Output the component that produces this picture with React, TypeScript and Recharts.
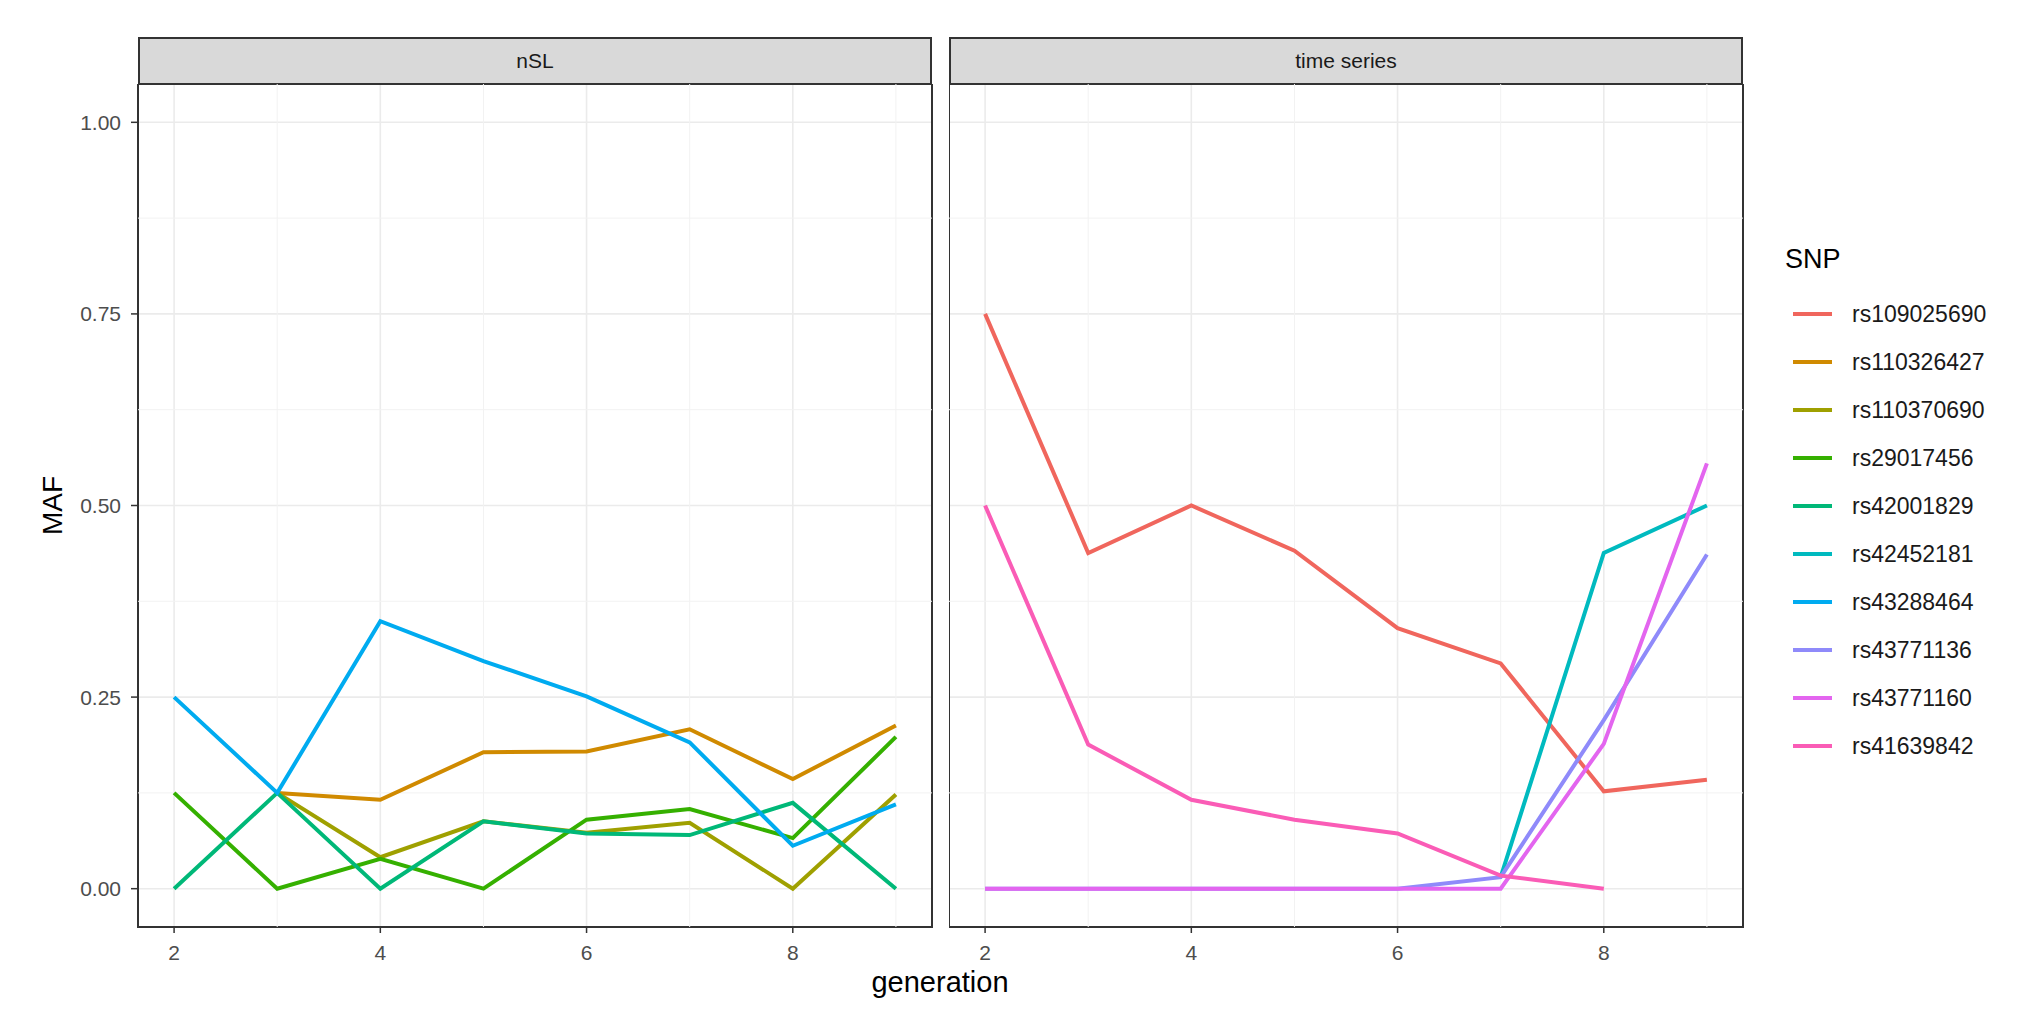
import React from "react";
import {
    LineChart,
    Line,
    XAxis,
    YAxis,
    CartesianGrid,
    ReferenceLine,
    ReferenceArea,
} from "recharts";

// generations on the x axis
const generations: number[] = [2, 3, 4, 5, 6, 7, 8, 9];

// legend order + ggplot hue colours
const snpNames: string[] = [
    "rs109025690",
    "rs110326427",
    "rs110370690",
    "rs29017456",
    "rs42001829",
    "rs42452181",
    "rs43288464",
    "rs43771136",
    "rs43771160",
    "rs41639842",
];
const snpColors: string[] = [
    "#F0665D",
    "#D08A00",
    "#9FA000",
    "#35B000",
    "#00B878",
    "#00BABF",
    "#00ABF0",
    "#8F8AFA",
    "#E365EF",
    "#FA5CB6",
];

// nSL panel
const nslRs110326427 = [null, 0.125, 0.116, 0.178, 0.179, 0.208, 0.143, 0.213];
const nslRs110370690 = [null, 0.125, 0.041, 0.088, 0.073, 0.086, 0, 0.123];
const nslRs29017456 = [0.125, 0, 0.039, 0, 0.09, 0.104, 0.066, 0.198];
const nslRs42001829 = [0, 0.125, 0, 0.088, 0.072, 0.07, 0.112, 0];
const nslRs43288464 = [0.25, 0.125, 0.349, 0.297, 0.251, 0.191, 0.056, 0.11];

// time series panel
const tsRs109025690 = [0.75, 0.438, 0.5, 0.441, 0.34, 0.294, 0.127, 0.142];
const tsRs42452181 = [null, null, null, null, null, 0.015, 0.438, 0.5];
const tsRs43771136 = [0, 0, 0, 0, 0, 0.015, 0.22, 0.436];
const tsRs43771160 = [0, 0, 0, 0, 0, 0, 0.189, 0.555];
const tsRs41639842 = [0.5, 0.188, 0.116, 0.09, 0.072, 0.017, 0, null];

const nslLines = [
    { name: "rs110326427", values: nslRs110326427 },
    { name: "rs110370690", values: nslRs110370690 },
    { name: "rs29017456", values: nslRs29017456 },
    { name: "rs42001829", values: nslRs42001829 },
    { name: "rs43288464", values: nslRs43288464 },
];

const tsLines = [
    { name: "rs109025690", values: tsRs109025690 },
    { name: "rs42452181", values: tsRs42452181 },
    { name: "rs43771136", values: tsRs43771136 },
    { name: "rs43771160", values: tsRs43771160 },
    { name: "rs41639842", values: tsRs41639842 },
];

const xTicks = [2, 4, 6, 8];
const xMinor = [3, 5, 7, 9];
const yTicks = [0, 0.25, 0.5, 0.75, 1];
const yMinor = [0.125, 0.375, 0.625, 0.875];

const FONT = "'Liberation Sans', Arial, Helvetica, sans-serif";
const X_DOMAIN: [number, number] = [1.65, 9.35];
const Y_DOMAIN: [number, number] = [-0.05, 1.05];

const toPoints = (values: (number | null)[]) =>
    generations
        .map((g, i) => ({ generation: g, maf: values[i] }))
        .filter((p) => p.maf !== null);

const colorOf = (name: string) => snpColors[snpNames.indexOf(name)];

interface PanelProps {
    lines: { name: string; values: (number | null)[] }[];
    showY: boolean;
    width: number;
}

const Panel = ({ lines, showY, width }: PanelProps): React.ReactElement => (
    <LineChart
        width={width}
        height={903}
        margin={{ top: 0, right: 8, bottom: 0, left: 0 }}
        style={{ fontFamily: FONT }}
    >
        <CartesianGrid stroke="#EBEBEB" strokeWidth={1.6} />
        {xMinor.map((v) => (
            <ReferenceLine key={"vx" + v} x={v} stroke="#F2F2F2" strokeWidth={1} />
        ))}
        {yMinor.map((v) => (
            <ReferenceLine key={"hy" + v} y={v} stroke="#F2F2F2" strokeWidth={1} />
        ))}
        <XAxis
            type="number"
            dataKey="generation"
            domain={X_DOMAIN}
            ticks={xTicks}
            allowDataOverflow
            height={60}
            axisLine={false}
            tickLine={{ stroke: "#333333", strokeWidth: 1.5 }}
            tickSize={6}
            tickMargin={12}
            tick={{ fill: "#4D4D4D", fontSize: 21 }}
        />
        <YAxis
            type="number"
            domain={Y_DOMAIN}
            ticks={yTicks}
            allowDataOverflow
            hide={!showY}
            width={138}
            axisLine={false}
            tickLine={{ stroke: "#333333", strokeWidth: 1.5 }}
            tickSize={7}
            tickMargin={10}
            tick={{ fill: "#4D4D4D", fontSize: 21 }}
            tickFormatter={(v: number) => v.toFixed(2)}
            label={{
                value: "MAF",
                angle: -90,
                position: "center",
                dx: -17,
                fill: "#000000",
                fontSize: 28,
            }}
        />
        {lines.map((l) => (
            <Line
                key={l.name}
                data={toPoints(l.values)}
                dataKey="maf"
                type="linear"
                stroke={colorOf(l.name)}
                strokeWidth={4}
                dot={false}
                isAnimationActive={false}
            />
        ))}
        <ReferenceArea
            x1={X_DOMAIN[0]}
            x2={X_DOMAIN[1]}
            y1={Y_DOMAIN[0]}
            y2={Y_DOMAIN[1]}
            fill="none"
            stroke="#333333"
            strokeWidth={2}
            ifOverflow="visible"
        />
    </LineChart>
);

const Strip = ({ label, left }: { label: string; left: number }) => (
    <div
        style={{
            position: "absolute",
            left,
            top: 37,
            width: 794,
            height: 48,
            boxSizing: "border-box",
            background: "#D9D9D9",
            border: "2px solid #333333",
            display: "flex",
            alignItems: "center",
            justifyContent: "center",
            fontSize: 21,
            color: "#1A1A1A",
        }}
    >
        {label}
    </div>
);

export default function App(): React.ReactElement {
    return (
        <div
            style={{
                position: "absolute",
                left: 0,
                top: 0,
                width: 2032,
                height: 1033,
                background: "#FFFFFF",
                fontFamily: FONT,
                overflow: "hidden",
            }}
        >
            <Strip label="nSL" left={138} />
            <Strip label="time series" left={949} />

            <div style={{ position: "absolute", left: 0, top: 84 }}>
                <Panel lines={nslLines} showY={true} width={940} />
            </div>
            <div style={{ position: "absolute", left: 949, top: 84 }}>
                <Panel lines={tsLines} showY={false} width={802} />
            </div>

            <div
                style={{
                    position: "absolute",
                    left: 740,
                    width: 400,
                    top: 966,
                    textAlign: "center",
                    fontSize: 29,
                    color: "#000000",
                }}
            >
                generation
            </div>

            <div style={{ position: "absolute", left: 1785, top: 244 }}>
                <div style={{ fontSize: 27, color: "#000000", height: 46 }}>SNP</div>
                {snpNames.map((name, i) => (
                    <div
                        key={name}
                        style={{
                            display: "flex",
                            alignItems: "center",
                            height: 48,
                        }}
                    >
                        <svg width={67} height={10}>
                            <line
                                x1={8}
                                x2={47}
                                y1={5}
                                y2={5}
                                stroke={snpColors[i]}
                                strokeWidth={4}
                            />
                        </svg>
                        <span style={{ fontSize: 23, color: "#1A1A1A" }}>{name}</span>
                    </div>
                ))}
            </div>
        </div>
    );
}
